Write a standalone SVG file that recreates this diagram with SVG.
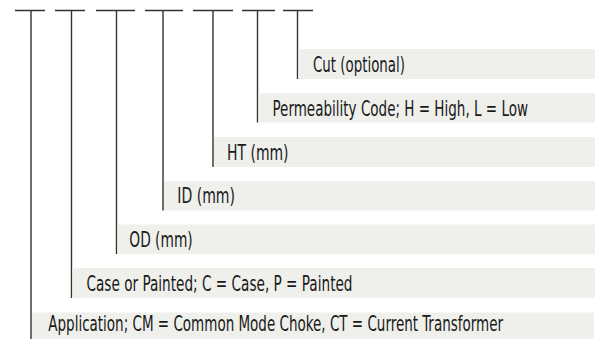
<svg xmlns="http://www.w3.org/2000/svg" width="598" height="339" viewBox="0 0 598 339">
<style>
.bar{fill:#eff0ec;stroke:none}
.ln{stroke:#333;stroke-width:1.4;fill:none}
.t{font-family:"DejaVu Sans Condensed","Liberation Sans Narrow","Liberation Sans",sans-serif;font-stretch:condensed;font-size:22px;fill:#1a1a1a}
</style>
<rect width="598" height="339" fill="#fff"/>
<g id="connectors">
<path class="ln" d="M15 10.5H45M55 10.5H85M96 10.5H135M145 10.5H183M193 10.5H233M242 10.5H275M283 10.5H313"/>
<path class="ln" d="M31 10.5V339M71.5 10.5V298M116.5 10.5V254M163 10.5V210.5M213 10.5V167M257.5 10.5V122.5M297.5 10.5V79"/>
</g>
<g id="cut"><rect class="bar" x="298.5" y="49" width="296.5" height="30"/><text class="t" x="313" y="71.5" textLength="92" lengthAdjust="spacingAndGlyphs">Cut (optional)</text></g>
<g id="perm"><rect class="bar" x="258.5" y="93" width="336.5" height="29.5"/><text class="t" x="272.5" y="115.5" textLength="255.5" lengthAdjust="spacingAndGlyphs">Permeability Code; H = High, L = Low</text></g>
<g id="ht"><rect class="bar" x="214" y="137" width="381" height="30"/><text class="t" x="227" y="159.5" textLength="61.5" lengthAdjust="spacingAndGlyphs">HT (mm)</text></g>
<g id="id"><rect class="bar" x="164" y="181" width="431" height="29.5"/><text class="t" x="177.3" y="203.3" textLength="57.7" lengthAdjust="spacingAndGlyphs">ID (mm)</text></g>
<g id="od"><rect class="bar" x="117.5" y="224.5" width="477.5" height="29.5"/><text class="t" x="129.3" y="247" textLength="63.4" lengthAdjust="spacingAndGlyphs">OD (mm)</text></g>
<g id="case"><rect class="bar" x="72.5" y="268" width="522.5" height="30"/><text class="t" x="86.5" y="291" textLength="266" lengthAdjust="spacingAndGlyphs">Case or Painted; C = Case, P = Painted</text></g>
<g id="app"><rect class="bar" x="32" y="312.5" width="562" height="27"/><text class="t" x="48.3" y="331" textLength="454.7" lengthAdjust="spacingAndGlyphs">Application; CM = Common Mode Choke, CT = Current Transformer</text></g>
</svg>
